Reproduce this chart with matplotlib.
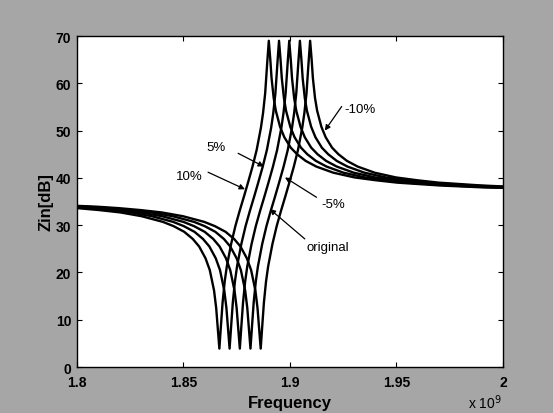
import matplotlib
matplotlib.use('Agg')
import matplotlib.pyplot as plt
import numpy as np

# original input impedance curve (frequency in GHz, |Zin| in dB)
freq_ghz = [1.79, 1.80, 1.81, 1.82, 1.83, 1.84, 1.85, 1.855, 1.86, 1.864,
            1.867, 1.870, 1.872, 1.874, 1.875, 1.8758, 1.8765, 1.8772, 1.878, 1.879,
            1.880, 1.882, 1.884, 1.886, 1.888, 1.890, 1.892, 1.894, 1.896, 1.897,
            1.898, 1.899, 1.8997, 1.9004, 1.901, 1.902, 1.903, 1.905, 1.907, 1.910,
            1.913, 1.917, 1.922, 1.93, 1.94, 1.95, 1.96, 1.97, 1.98, 1.99,
            2.00, 2.01]
zin_db = [34.1, 33.9, 33.6, 33.2, 32.7, 31.9, 30.7, 29.8, 28.6, 27.1,
          25.5, 23.0, 20.5, 16.2, 12.5, 7.9, 3.9, 8.5, 13.6, 18.1,
          21.3, 26.0, 29.8, 33.0, 36.0, 39.1, 42.3, 45.9, 50.6, 53.7,
          57.9, 64.6, 69.0, 65.1, 61.1, 56.9, 54.2, 50.8, 48.6, 46.4,
          45.0, 43.6, 42.4, 41.1, 40.1, 39.5, 39.0, 38.7, 38.4, 38.2,
          38.0, 37.9]

# frequency shift of each variation (GHz)
variations = ['10%', '5%', 'original', '-5%', '-10%']
shift_ghz = [-0.0096, -0.0048, 0.0, 0.0050, 0.0098]

xticks = [1.8, 1.85, 1.9, 1.95, 2.0]
xticklabels = ['1.8', '1.85', '1.9', '1.95', '2']
yticks = [0, 10, 20, 30, 40, 50, 60, 70]

plt.rcParams['font.family'] = ['Liberation Sans', 'DejaVu Sans']

fig = plt.figure(figsize=(5.53, 4.14), dpi=100, facecolor='#a6a6a6')
ax = fig.add_axes([0.139, 0.111, 0.7704, 0.7995])
ax.set_facecolor('white')

f = np.array(freq_ghz)
for s in shift_ghz:
    ax.plot(f + s, zin_db, color='black', lw=1.7, solid_joinstyle='round')

ax.set_xlim(1.8, 2.0)
ax.set_ylim(0, 70)
ax.set_xticks(xticks)
ax.set_xticklabels(xticklabels)
ax.set_yticks(yticks)
ax.tick_params(direction='in', length=3.5, width=0.8, top=True, right=True,
               labelsize=10, pad=4)
ax.tick_params(axis='x', pad=6)
for lab in ax.get_xticklabels() + ax.get_yticklabels():
    lab.set_fontweight('bold')
for sp in ax.spines.values():
    sp.set_linewidth(1.0)

ax.set_xlabel('Frequency', fontsize=12, fontweight='bold', labelpad=4)
ax.set_ylabel('Zin[dB]', fontsize=12, fontweight='bold', labelpad=2)
fig.text(0.846, 0.028, r'x 10$^9$', fontsize=10, ha='left', va='center')

arrow = dict(arrowstyle='-|>', lw=0.9, color='black', mutation_scale=8,
             shrinkA=0, shrinkB=0)

# (label, text position, arrow start, arrow tip)
notes = [
    ('10%', (1.8465, 40.4), (1.8616, 41.2), (1.8789, 37.6)),
    ('5%', (1.8610, 46.5), (1.8757, 45.2), (1.8878, 42.4)),
    ('-5%', (1.9146, 34.5), (1.9125, 35.9), (1.8977, 40.1)),
    ('original', (1.9080, 25.4), (1.9070, 27.1), (1.8906, 33.4)),
    ('-10%', (1.9254, 54.5), (1.9243, 55.1), (1.9164, 50.0)),
]
for label, txt, start, tip in notes:
    ax.text(txt[0], txt[1], label, fontsize=9.5, ha='left', va='center')
    ax.annotate('', xy=tip, xytext=start, arrowprops=arrow)

fig.savefig('out.png', dpi=100, facecolor=fig.get_facecolor())
